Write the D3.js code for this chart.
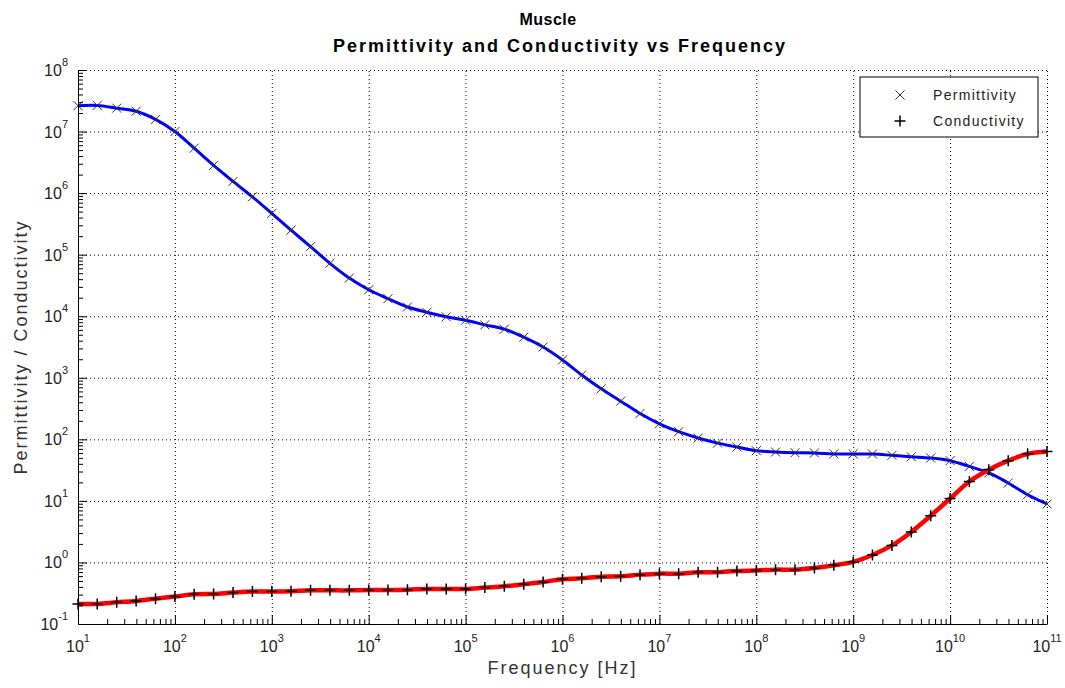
<!DOCTYPE html>
<html>
<head>
<meta charset="UTF-8">
<title>Muscle - Permittivity and Conductivity vs Frequency</title>
<style>
    body { margin: 0; background: #fff; }
    svg { display: block; font-family: "Liberation Sans", Arial, Helvetica, sans-serif; }
    .grid line { stroke: #000; stroke-width: 1; stroke-dasharray: 1,3; }
    .grid path { display: none; }
    .axis path, .axis line { stroke: #000; stroke-width: 1; }
    .tick-label { font-size: 16px; fill: #222; }
</style>
<script src="https://d3js.org/d3.v7.min.js"></script>
</head>
<body>
<div id="chart"></div>
<script>
// frequency samples (Hz)
const freq = [
    1e1, 1.58e1, 2.51e1, 3.98e1, 6.31e1,
    1e2, 1.58e2, 2.51e2, 3.98e2, 6.31e2,
    1e3, 1.58e3, 2.51e3, 3.98e3, 6.31e3,
    1e4, 1.58e4, 2.51e4, 3.98e4, 6.31e4,
    1e5, 1.58e5, 2.51e5, 3.98e5, 6.31e5,
    1e6, 1.58e6, 2.51e6, 3.98e6, 6.31e6,
    1e7, 1.58e7, 2.51e7, 3.98e7, 6.31e7,
    1e8, 1.58e8, 2.51e8, 3.98e8, 6.31e8,
    1e9, 1.58e9, 2.51e9, 3.98e9, 6.31e9,
    1e10, 1.58e10, 2.51e10, 3.98e10, 6.31e10,
    1e11
];

// relative permittivity
const permittivity = [
    2.63e7, 2.66e7, 2.40e7, 2.14e7, 1.58e7,
    1.00e7, 5.37e6, 2.82e6, 1.55e6, 8.71e5,
    4.68e5, 2.51e5, 1.35e5, 7.24e4, 4.17e4,
    2.69e4, 1.93e4, 1.41e4, 1.16e4, 9.77e3,
    8.61e3, 7.24e3, 6.17e3, 4.57e3, 3.16e3,
    1.95e3, 1.11e3, 661, 417, 263,
    179, 133, 105, 86.9, 75.0,
    65.3, 62.2, 60.5, 60.0, 57.9,
    57.9, 57.8, 55.0, 52.1, 49.7,
    45.0, 36.3, 28.4, 19.5, 12.6,
    8.91
];

// conductivity (S/m)
const conductivity = [
    0.212, 0.212, 0.225, 0.237, 0.258,
    0.279, 0.303, 0.308, 0.324, 0.336,
    0.336, 0.340, 0.352, 0.352, 0.352,
    0.358, 0.358, 0.361, 0.371, 0.371,
    0.371, 0.390, 0.409, 0.442, 0.482,
    0.532, 0.552, 0.587, 0.596, 0.634,
    0.658, 0.658, 0.692, 0.692, 0.728,
    0.741, 0.764, 0.764, 0.815, 0.897,
    1.02, 1.32, 1.89, 3.13, 5.75,
    10.9, 20.7, 32.1, 45.0, 58.3,
    63.7
];

const xDecades = [1, 2, 3, 4, 5, 6, 7, 8, 9, 10, 11];
const yDecades = [-1, 0, 1, 2, 3, 4, 5, 6, 7, 8];

const width = 1065, height = 688;
const pLeft = 78, pRight = 1047, pTop = 70, pBottom = 624;

const svg = d3.select("#chart").append("svg")
    .attr("width", width)
    .attr("height", height);

const x = d3.scaleLog().domain([1e1, 1e11]).range([pLeft, pRight]);
const y = d3.scaleLog().domain([1e-1, 1e8]).range([pBottom, pTop]);

const xMajor = xDecades.map(e => Math.pow(10, e));
const yMajor = yDecades.map(e => Math.pow(10, e));
const xMinor = [], yMinor = [];
xDecades.slice(0, -1).forEach(e => { for (let k = 2; k <= 9; k++) xMinor.push(k * Math.pow(10, e)); });
yDecades.slice(0, -1).forEach(e => { for (let k = 2; k <= 9; k++) yMinor.push(k * Math.pow(10, e)); });

// dotted grid
svg.append("g").attr("class", "grid")
    .attr("transform", `translate(0,${pBottom})`)
    .call(d3.axisBottom(x).tickValues(xMajor.slice(1)).tickSize(-(pBottom - pTop)).tickFormat(""));
svg.append("g").attr("class", "grid")
    .attr("transform", `translate(${pLeft},0)`)
    .call(d3.axisLeft(y).tickValues(yMajor.slice(1)).tickSize(-(pRight - pLeft)).tickFormat(""));

// curves
const line = d3.line()
    .x(d => x(d[0]))
    .y(d => y(d[1]))
    .curve(d3.curveCatmullRom.alpha(0.5));

const permData = freq.map((f, i) => [f, permittivity[i]]);
const condData = freq.map((f, i) => [f, conductivity[i]]);

svg.append("path").datum(permData)
    .attr("fill", "none").attr("stroke", "#0000ff").attr("stroke-width", 3)
    .attr("d", line);

svg.append("g").selectAll("path").data(permData).join("path")
    .attr("transform", d => `translate(${x(d[0])},${y(d[1])})`)
    .attr("d", "M-4.5,-4.5L4.5,4.5M-4.5,4.5L4.5,-4.5")
    .attr("stroke", "#333").attr("stroke-width", 1).attr("fill", "none");

svg.append("path").datum(condData)
    .attr("fill", "none").attr("stroke", "#ff0000").attr("stroke-width", 4.5)
    .attr("d", line);

svg.append("g").selectAll("path").data(condData).join("path")
    .attr("transform", d => `translate(${x(d[0])},${y(d[1])})`)
    .attr("d", "M-5.5,0H5.5M0,-5.5V5.5")
    .attr("stroke", "#000").attr("stroke-width", 1.5).attr("fill", "none");

// axes (inward ticks, left and bottom only)
const xAxis = svg.append("g").attr("class", "axis").attr("transform", `translate(0,${pBottom})`);
xAxis.call(d3.axisBottom(x).tickValues(xMajor).tickSize(-9).tickSizeOuter(0).tickFormat(""));
xAxis.append("g").call(d3.axisBottom(x).tickValues(xMinor).tickSize(-5).tickSizeOuter(0).tickFormat(""))
    .select(".domain").remove();

const yAxis = svg.append("g").attr("class", "axis").attr("transform", `translate(${pLeft},0)`);
yAxis.call(d3.axisLeft(y).tickValues(yMajor).tickSize(-9).tickSizeOuter(0).tickFormat(""));
yAxis.append("g").call(d3.axisLeft(y).tickValues(yMinor).tickSize(-5).tickSizeOuter(0).tickFormat(""))
    .select(".domain").remove();

// tick labels 10^n
xDecades.forEach(e => {
    const t = svg.append("text").attr("class", "tick-label")
        .attr("x", x(Math.pow(10, e))).attr("y", 652)
        .attr("text-anchor", "middle");
    t.append("tspan").text("10");
    t.append("tspan").attr("dy", -10).attr("font-size", 11).text(e);
});
yDecades.forEach(e => {
    const t = svg.append("text").attr("class", "tick-label")
        .attr("x", 68).attr("y", y(Math.pow(10, e)) + 6)
        .attr("text-anchor", "end");
    t.append("tspan").text("10");
    t.append("tspan").attr("dy", -10).attr("font-size", 11).text(e);
});

// titles
svg.append("text").attr("x", 548).attr("y", 25)
    .attr("text-anchor", "middle").attr("font-weight", "bold")
    .attr("font-size", 16).attr("letter-spacing", 0.5).attr("fill", "#000")
    .text("Muscle");
svg.append("text").attr("x", 560).attr("y", 52)
    .attr("text-anchor", "middle").attr("font-weight", "bold")
    .attr("font-size", 18).attr("letter-spacing", 2).attr("fill", "#000")
    .text("Permittivity and Conductivity vs Frequency");

svg.append("text").attr("x", (pLeft + pRight) / 2).attr("y", 674)
    .attr("text-anchor", "middle").attr("font-size", 18).attr("letter-spacing", 2)
    .attr("fill", "#333")
    .text("Frequency [Hz]");

svg.append("text")
    .attr("transform", `translate(27,${(pTop + pBottom) / 2}) rotate(-90)`)
    .attr("text-anchor", "middle").attr("font-size", 18).attr("letter-spacing", 2)
    .attr("fill", "#333")
    .text("Permittivity / Conductivity");

// legend
const legend = svg.append("g").attr("transform", "translate(860,77)");
legend.append("rect").attr("width", 178).attr("height", 60)
    .attr("fill", "#fff").attr("stroke", "#000").attr("stroke-width", 1);
legend.append("path").attr("transform", "translate(40,18)")
    .attr("d", "M-4.5,-4.5L4.5,4.5M-4.5,4.5L4.5,-4.5")
    .attr("stroke", "#333").attr("fill", "none");
legend.append("path").attr("transform", "translate(40,44)")
    .attr("d", "M-5.5,0H5.5M0,-5.5V5.5")
    .attr("stroke", "#000").attr("stroke-width", 1.5).attr("fill", "none");
legend.append("text").attr("x", 73).attr("y", 23)
    .attr("font-size", 14).attr("letter-spacing", 1.3).attr("fill", "#222")
    .text("Permittivity");
legend.append("text").attr("x", 73).attr("y", 49)
    .attr("font-size", 14).attr("letter-spacing", 1.3).attr("fill", "#222")
    .text("Conductivity");
</script>
</body>
</html>
